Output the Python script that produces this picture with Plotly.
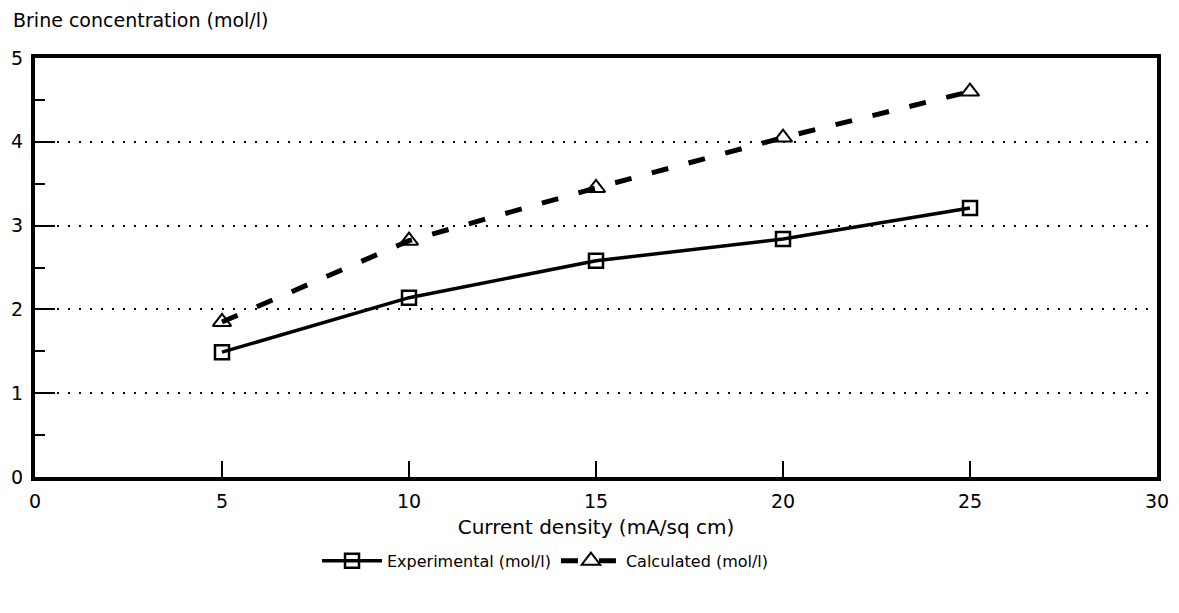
import plotly.graph_objects as go

current_density = [5, 10, 15, 20, 25]
experimental = [1.49, 2.14, 2.58, 2.84, 3.21]
calculated = [1.85, 2.82, 3.45, 4.05, 4.60]

x_ticks = [0, 5, 10, 15, 20, 25, 30]
y_ticks = [0, 1, 2, 3, 4, 5]

FONT = "DejaVu Sans, Liberation Sans, sans-serif"

fig = go.Figure()
fig.add_trace(go.Scatter(
    x=current_density, y=experimental, name="Experimental (mol/l)",
    mode="lines+markers",
    line=dict(color="black", width=3.5),
    marker=dict(symbol="square-open", size=14, color="black", line=dict(width=2.5)),
))
fig.add_trace(go.Scatter(
    x=current_density, y=calculated, name="Calculated (mol/l)",
    mode="lines+markers",
    line=dict(color="black", width=5, dash="17px,21px"),
    marker=dict(symbol="triangle-up-open", size=16, color="black", line=dict(width=2)),
))

fig.update_layout(
    width=1179, height=613,
    margin=dict(l=27, r=30, t=50, b=144, autoexpand=False),
    paper_bgcolor="white", plot_bgcolor="white",
    font=dict(family=FONT, size=18, color="black"),
    showlegend=True,
    legend=dict(orientation="h", x=0.455, xanchor="center", y=-0.2, yanchor="middle",
                font=dict(size=16), itemwidth=60, traceorder="normal"),
    annotations=[dict(text="Brine concentration (mol/l)", xref="paper", yref="paper",
                      x=-0.021, y=1.09, xanchor="left", yanchor="middle",
                      showarrow=False, font=dict(size=19))],
)
fig.update_xaxes(
    range=[0, 30], tickvals=x_ticks, ticktext=[str(v) for v in x_ticks],
    tickfont=dict(size=19), automargin=False,
    showline=True, linewidth=4, linecolor="black", mirror=True,
    ticks="inside", ticklen=16, tickwidth=2, tickcolor="black",
    ticklabelstandoff=4,
    showgrid=False, zeroline=False,
    title=dict(text="Current density (mA/sq cm)", standoff=10, font=dict(size=20)),
)
fig.update_yaxes(
    range=[0, 5], tickvals=y_ticks, ticktext=[str(v) for v in y_ticks],
    tickfont=dict(size=19), automargin=False,
    showline=True, linewidth=4, linecolor="black", mirror=True,
    ticks="inside", ticklen=20, tickwidth=2, tickcolor="black",
    ticklabelstandoff=4,
    showgrid=True, gridcolor="black", gridwidth=2, griddash="2px,9px",
    zeroline=False,
    minor=dict(dtick=0.5, ticks="inside", ticklen=10, tickwidth=2, tickcolor="black", showgrid=False),
)
fig.write_html("out.html")
